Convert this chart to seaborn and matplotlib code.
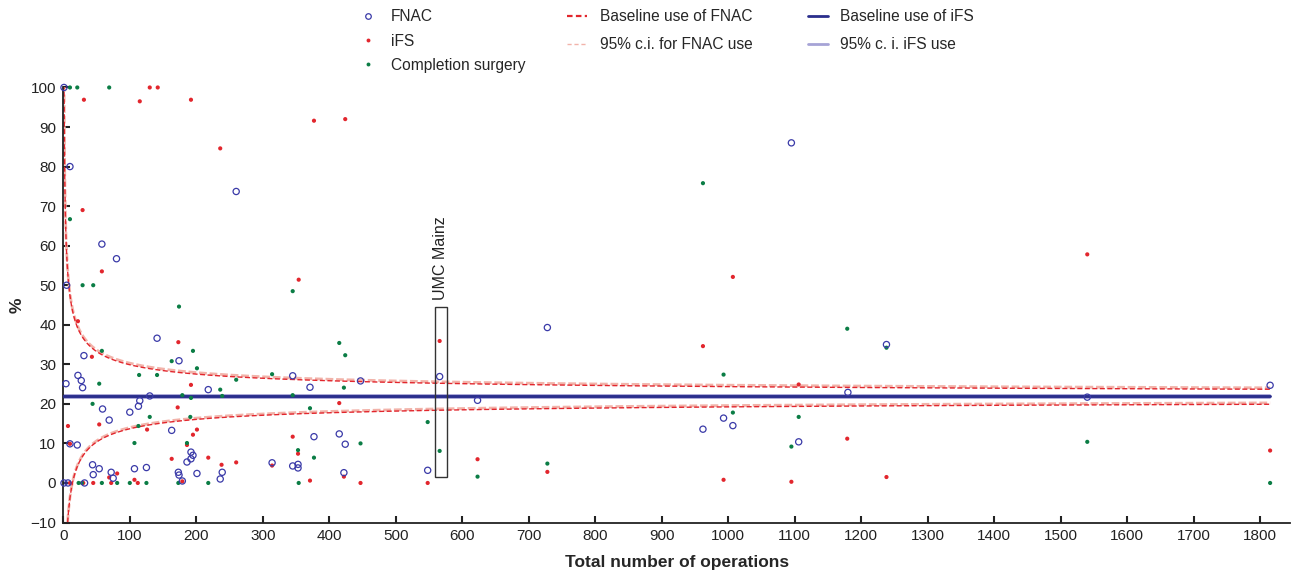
import numpy as np
import pandas as pd
import matplotlib
matplotlib.use("Agg")
import matplotlib.pyplot as plt
import seaborn as sns
from matplotlib.lines import Line2D
from matplotlib.patches import Rectangle

# ---------------- data ----------------
fnac_n = [1, 10, 58, 80, 5, 31, 22, 27, 29, 4, 115, 113, 59, 100, 69, 10, 21,
          44, 54, 45, 72, 75, 107, 125, 1, 7, 32,
          130, 141, 163, 174, 218, 192, 195, 192, 186, 173, 174, 201, 239, 236, 179, 260,
          314, 345, 345, 353, 353, 371, 377, 415, 424, 422, 447, 548, 566, 623, 728,
          962, 993, 1007, 1095, 1106, 1180, 1238, 1540, 1815]
fnac_pct = [100, 80, 60.4, 56.7, 50, 32.2, 27.2, 25.9, 24.1, 25.1, 20.8, 19.4, 18.7, 17.9, 15.9, 9.9, 9.6,
            4.6, 3.6, 2.1, 2.7, 1.2, 3.6, 3.9, 0, 0, 0,
            22.0, 36.6, 13.3, 30.9, 23.6, 7.8, 7.0, 6.1, 5.3, 2.7, 2.0, 2.4, 2.7, 1.0, 0.5, 73.7,
            5.1, 27.1, 4.3, 4.7, 3.8, 24.2, 11.7, 12.4, 9.8, 2.6, 25.8, 3.2, 26.9, 20.9, 39.3,
            13.6, 16.4, 14.5, 86.0, 10.4, 22.9, 35.0, 21.7, 24.7]

ifs_n = [130, 142, 31, 115, 192, 236, 377, 424, 29, 58, 354, 22, 173, 43, 192, 172, 7,
         54, 126, 201, 195, 10, 186, 163, 218, 238, 260, 81, 69, 107, 179, 314, 345, 353,
         415, 422, 371, 447, 548, 566, 623, 728, 962, 993, 1007, 1095, 1106, 1179, 1238,
         1540, 1815, 10, 30, 45, 72, 112]
ifs_pct = [100, 100, 96.9, 96.5, 96.9, 84.6, 91.6, 92.0, 69.0, 53.5, 51.4, 40.9, 35.6, 31.9, 24.8, 19.1, 14.4,
           14.8, 13.5, 13.5, 12.2, 9.9, 9.6, 6.1, 6.4, 4.6, 5.2, 2.4, 1.4, 0.8, 0.4, 4.4, 11.7, 7.4,
           20.2, 1.6, 0.6, 0, 0, 35.9, 6.0, 2.8, 34.6, 0.8, 52.1, 0.3, 24.9, 11.2, 1.5,
           57.8, 8.2, 0, 0, 0, 0, 0]

cs_n = [10, 21, 69, 10, 29, 45, 174, 345, 58, 195, 163, 201, 114, 141, 260, 314, 415, 424,
        236, 54, 422, 179, 192, 239, 345, 44, 371, 130, 191, 113, 107, 186, 447, 353, 377,
        548, 566, 623, 728, 962, 993, 1007, 1095, 1106, 1179, 1238, 1540, 1815,
        23, 28, 58, 81, 100, 125, 173, 218, 354]
cs_pct = [100, 100, 100, 66.7, 50, 50, 44.6, 48.5, 33.4, 33.4, 30.8, 29.0, 27.3, 27.3, 26.1, 27.5, 35.4, 32.3,
          23.6, 25.1, 24.1, 22.2, 21.5, 22.0, 22.2, 20.0, 18.9, 16.7, 16.7, 14.4, 10.1, 10.1, 10.0, 8.3, 6.4,
          15.4, 8.1, 1.6, 4.9, 75.8, 27.4, 17.8, 9.2, 16.7, 39.0, 34.2, 10.4, 0,
          0, 0, 0, 0, 0, 0, 0, 0, 0]

baseline_fnac = 21.8      # % (red funnel centre)
baseline_fnac_ci = 22.15  # % (light funnel centre)
baseline_ifs = 21.9       # %
ifs_ci_halfwidth = 0.35   # %
max_n = 1815
umc_n_range = (559, 577)
umc_pct_range = (1.6, 44.4)

x_ticks = list(range(0, 1801, 100))
y_ticks = list(range(-10, 101, 10))

# ---------------- style ----------------
sns.set_style("ticks")
plt.rcParams["font.family"] = ["Liberation Sans", "DejaVu Sans"]

BLUE = "#3a3aa8"
RED = "#e2262d"
GREEN = "#0b7d45"
NAVY = "#2a2e8c"
LILAC = "#a6a3d6"
PINK = "#f2b3aa"

fig = plt.figure(figsize=(12.92, 5.74), dpi=100)
ax = fig.add_axes([0.049, 0.0897, 0.9495, 0.7579])

# funnels (95% binomial limits around the baseline)
n = np.arange(1, max_n + 1, dtype=float)
def funnel(p):
    half = 196 * np.sqrt((p / 100) * (1 - p / 100) / n)
    return p + half, p - half

up_l, lo_l = funnel(baseline_fnac_ci)
up_r, lo_r = funnel(baseline_fnac)
df_f = pd.DataFrame({"n": n, "up_l": up_l, "lo_l": lo_l, "up_r": up_r, "lo_r": lo_r})
for col in ["up_l", "lo_l"]:
    sns.lineplot(data=df_f, x="n", y=col, ax=ax, color=PINK, lw=2.0,
                 linestyle=(0, (2.8, 1.0)), zorder=2)
for col in ["up_r", "lo_r"]:
    sns.lineplot(data=df_f, x="n", y=col, ax=ax, color=RED, lw=1.0,
                 linestyle=(0, (3.6, 1.8)), zorder=2.2)

# iFS baseline and its CI
ax.plot([0, max_n], [baseline_ifs + ifs_ci_halfwidth] * 2, color=LILAC, lw=1.3, zorder=2.5)
ax.plot([0, max_n], [baseline_ifs - ifs_ci_halfwidth] * 2, color=LILAC, lw=1.3, zorder=2.5)
ax.plot([0, max_n], [baseline_ifs] * 2, color=NAVY, lw=2.1, zorder=2.6)

# points
sns.scatterplot(x=ifs_n, y=ifs_pct, ax=ax, color=RED, s=9, marker="o",
                edgecolor="none", linewidth=0, zorder=3, clip_on=False)
sns.scatterplot(x=cs_n, y=cs_pct, ax=ax, color=GREEN, s=9, marker="o",
                edgecolor="none", linewidth=0, zorder=3, clip_on=False)
sns.scatterplot(x=fnac_n, y=fnac_pct, ax=ax, color=BLUE, s=20, marker="o",
                facecolor="none", edgecolor=BLUE, linewidth=0.9, zorder=4, clip_on=False)

# UMC Mainz highlight
ax.add_patch(Rectangle((umc_n_range[0], umc_pct_range[0]),
                       umc_n_range[1] - umc_n_range[0],
                       umc_pct_range[1] - umc_pct_range[0],
                       fill=False, edgecolor="#333333", lw=1.0, zorder=5))
ax.text(sum(umc_n_range) / 2, umc_pct_range[1] + 1.8, "UMC Mainz", rotation=90,
        ha="center", va="bottom", fontsize=11.5, color="#222222")

# axes
ax.set_xlim(0, 1845)
ax.set_ylim(-10, 100)
ax.set_xticks(x_ticks)
ax.set_yticks(y_ticks)
ax.set_yticklabels(["\u221210" if t < 0 else str(t) for t in y_ticks])
ax.tick_params(direction="in", length=5, width=1.5, labelsize=11, colors="#222222",
               pad=5)
for s in ["top", "right"]:
    ax.spines[s].set_visible(False)
for s in ["left", "bottom"]:
    ax.spines[s].set_linewidth(1.3)
    ax.spines[s].set_color("#222222")
ax.set_xlabel("Total number of operations", fontsize=12.5, fontweight="bold", labelpad=8)
ax.set_ylabel("%", fontsize=12.5, fontweight="bold", labelpad=4)

# legends
leg_kw = dict(frameon=False, fontsize=11.2, handlelength=1.3, handletextpad=0.8,
              borderpad=0, borderaxespad=0, loc="upper left")
h1 = [Line2D([], [], ls="none", marker="o", ms=4, mfc="none", mec=BLUE, mew=0.9),
      Line2D([], [], ls="none", marker="o", ms=2.8, mfc=RED, mec="none"),
      Line2D([], [], ls="none", marker="o", ms=2.8, mfc=GREEN, mec="none")]
l1 = fig.legend(h1, ["FNAC", "iFS", "Completion surgery"], bbox_to_anchor=(0.277, 0.984),
                labelspacing=0.6, **leg_kw)
h2 = [Line2D([], [], color=RED, lw=1.6, ls=(0, (2.5, 1.5))),
      Line2D([], [], color=PINK, lw=1.0, ls=(0, (3, 2)))]
l2 = fig.legend(h2, ["Baseline use of FNAC", "95% c.i. for FNAC use"],
                bbox_to_anchor=(0.439, 0.984), labelspacing=0.85, **leg_kw)
h3 = [Line2D([], [], color=NAVY, lw=2.0),
      Line2D([], [], color=LILAC, lw=2.0)]
l3 = fig.legend(h3, ["Baseline use of iFS", "95% c. i. iFS use"],
                bbox_to_anchor=(0.625, 0.984), labelspacing=0.85, **leg_kw)

fig.savefig("out.png", dpi=100)
